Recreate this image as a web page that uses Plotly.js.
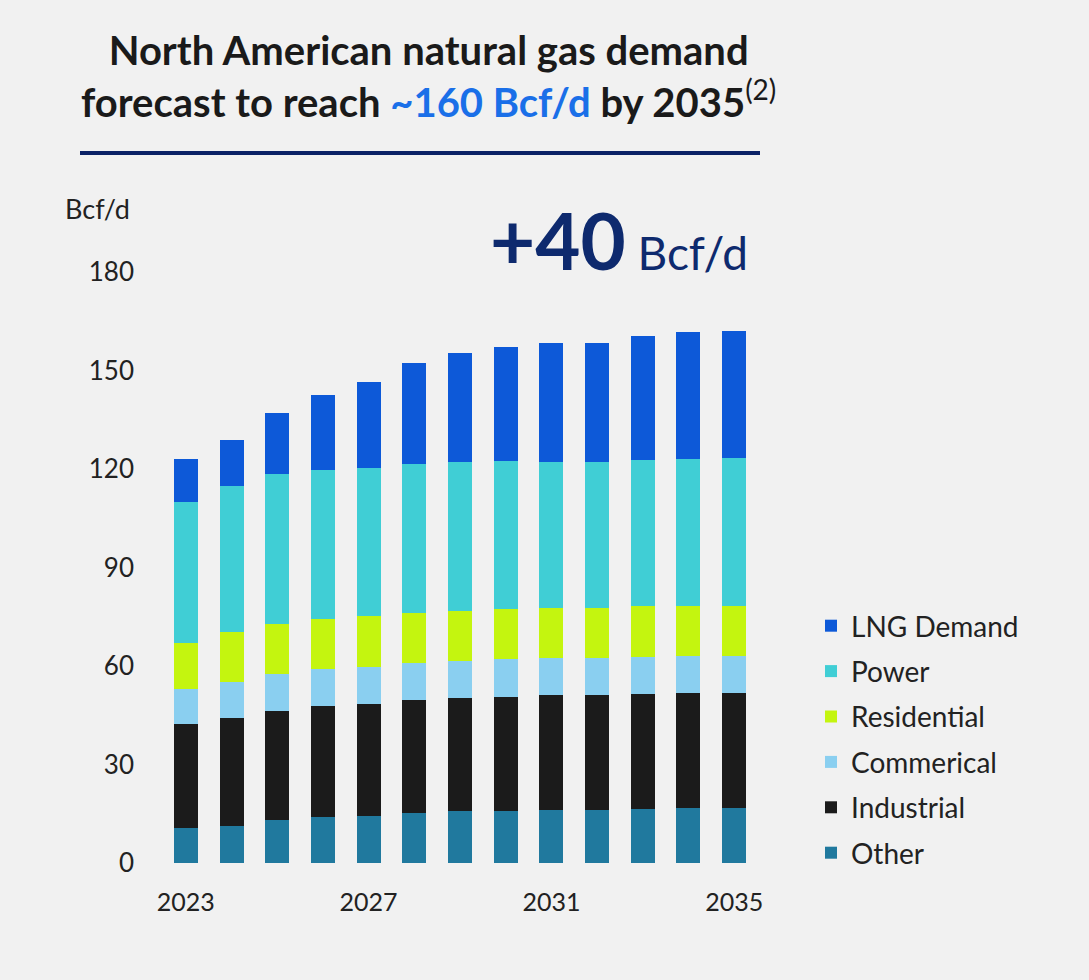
<!DOCTYPE html>
<html>
<head>
<meta charset="utf-8">
<script src="https://cdn.plot.ly/plotly-3.0.1.min.js"></script>
<style>
  html, body { margin: 0; padding: 0; background: #f1f1f1; }
  #chart { width: 1089px; height: 980px; }
</style>
</head>
<body>
<div id="chart"></div>
<script>
// ---- Data (Bcf/d) ----
const years = [2023, 2024, 2025, 2026, 2027, 2028, 2029, 2030, 2031, 2032, 2033, 2034, 2035];
const other       = [10.7, 11.3, 13.1, 14.0, 14.4, 15.2, 15.7, 15.8, 16.0, 16.1, 16.5, 16.8, 16.8];
const industrial  = [31.6, 33.0, 33.3, 33.8, 34.1, 34.4, 34.6, 34.9, 35.2, 35.2, 35.0, 35.0, 35.0];
const commercial  = [10.6, 10.9, 11.2, 11.2, 11.3, 11.2, 11.3, 11.3, 11.3, 11.2, 11.3, 11.1, 11.1];
const residential = [14.1, 15.3, 15.2, 15.3, 15.3, 15.4, 15.3, 15.5, 15.3, 15.3, 15.4, 15.4, 15.4];
const power       = [42.9, 44.4, 45.6, 45.4, 45.2, 45.4, 45.2, 44.9, 44.3, 44.2, 44.6, 44.8, 45.0];
const lng         = [13.1, 13.8, 18.7, 22.9, 26.2, 30.7, 33.3, 34.7, 36.2, 36.3, 37.6, 38.5, 38.6];

const seriesNames = ["Other", "Industrial", "Commerical", "Residential", "Power", "LNG Demand"];
const seriesValues = [other, industrial, commercial, residential, power, lng];
const seriesColors = ["#20799e", "#1b1b1b", "#8acff0", "#c4f50f", "#40ced5", "#0d59d8"];

const xTickVals = [2023, 2027, 2031, 2035];
const yTickVals = [0, 30, 60, 90, 120, 150, 180];

const FONT = "Lato, 'Open Sans', sans-serif";

const traces = seriesNames.map((name, i) => ({
  type: "bar",
  name: name,
  x: years,
  y: seriesValues[i],
  legendgroup: name,
  legendrank: seriesNames.length - i,
  marker: { color: seriesColors[i], line: { width: 0 } },
  hoverinfo: "x+y+name"
}));

// plot area pixel geometry helpers
const L = 163, R = 332, T = 272, B = 117, W = 1089, H = 980;
const pw = W - L - R, ph = H - T - B;
const px = v => (v - L) / pw;
const py = v => (H - B - v) / ph;

const layout = {
  width: W, height: H,
  margin: { l: L, r: R, t: T, b: B },
  paper_bgcolor: "#f1f1f1",
  plot_bgcolor: "#f1f1f1",
  barmode: "stack",
  bargap: 0.475,
  font: { family: FONT, color: "#222222", size: 26 },
  xaxis: {
    range: [2022.5, 2035.5],
    tickvals: xTickVals,
    ticktext: xTickVals.map(String),
    showgrid: false, zeroline: false, showline: false,
    ticks: "",
    ticklabelstandoff: 22,
    tickfont: { family: FONT, size: 25, color: "#222222" }
  },
  yaxis: {
    range: [0, 180],
    tickvals: yTickVals,
    ticktext: yTickVals.map(String),
    showgrid: false, zeroline: false, showline: false,
    ticks: "",
    ticklabelstandoff: 28,
    tickfont: { family: FONT, size: 26, color: "#222222" }
  },
  legend: {
    traceorder: "grouped",
    tracegroupgap: 6,
    x: px(811), xanchor: "left",
    y: py(601), yanchor: "top",
    font: { family: FONT, size: 28, color: "#222222" },
    bgcolor: "rgba(0,0,0,0)",
    itemwidth: 30
  },
  shapes: [{
    type: "line", xref: "paper", yref: "paper",
    x0: px(80), x1: px(760), y0: py(153), y1: py(153),
    line: { color: "#0b2266", width: 4 }
  }],
  annotations: [
    {
      xref: "paper", yref: "paper",
      x: px(428), xanchor: "center",
      y: py(24), yanchor: "top",
      align: "center",
      text: "<b>North American natural gas demand</b><br><b>forecast to reach <span style='color:#1a6fe8'>~160 Bcf/d</span> by 2035</b><sup>(2)</sup>",
      showarrow: false,
      font: { family: FONT, size: 40, color: "#1a1a1a" }
    },
    {
      xref: "paper", yref: "paper",
      x: px(132), xanchor: "right",
      y: py(208), yanchor: "middle",
      text: "Bcf/d", showarrow: false,
      font: { family: FONT, size: 27, color: "#222222" }
    },
    {
      xref: "paper", yref: "paper",
      x: px(750), xanchor: "right",
      y: py(240), yanchor: "middle",
      text: "<b>+40</b><span style='font-size:46px'> Bcf/d</span>",
      showarrow: false,
      font: { family: FONT, size: 78, color: "#0e2a6e" }
    }
  ]
};

Plotly.newPlot("chart", traces, layout, { displayModeBar: false, staticPlot: true });
</script>
</body>
</html>
